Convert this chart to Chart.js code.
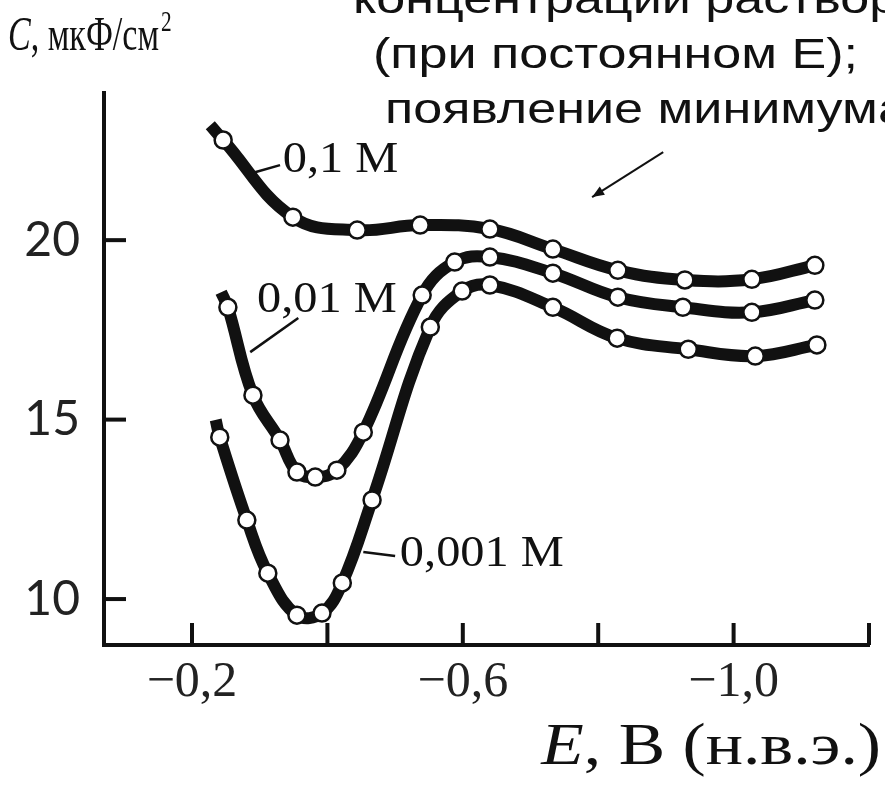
<!DOCTYPE html>
<html><head><meta charset="utf-8">
<script src="https://cdn.jsdelivr.net/npm/chart.js@4.4.1/dist/chart.umd.min.js"></script>
<style>html,body{margin:0;padding:0;background:#fff;overflow:hidden}#wrap{position:relative;width:885px;height:793px}</style>
</head><body><div id="wrap"><canvas id="c"></canvas></div>
<script>
// ---- data (E in V vs NHE, C in µF/cm²); first point of each series = line end without marker
const seriesNames = ['0,1 М', '0,01 М', '0,001 М'];
const E_01  = [-0.227, -0.246, -0.349, -0.444, -0.537, -0.640, -0.733, -0.829, -0.928, -1.027, -1.120];
const C_01  = [23.20, 22.79, 20.64, 20.28, 20.42, 20.31, 19.75, 19.16, 18.89, 18.91, 19.30];
const E_001 = [-0.243, -0.253, -0.290, -0.330, -0.355, -0.382, -0.414, -0.453, -0.540, -0.588, -0.640, -0.733, -0.829, -0.925, -1.027, -1.120];
const C_001 = [18.55, 18.13, 15.68, 14.43, 13.54, 13.40, 13.59, 14.65, 18.47, 19.39, 19.53, 19.08, 18.41, 18.13, 17.99, 18.33];
const E_0001 = [-0.235, -0.241, -0.281, -0.312, -0.355, -0.392, -0.422, -0.466, -0.552, -0.599, -0.640, -0.733, -0.828, -0.933, -1.032, -1.123];
const C_0001 = [14.99, 14.51, 12.20, 10.72, 9.55, 9.61, 10.45, 12.76, 17.58, 18.58, 18.75, 18.13, 17.27, 16.96, 16.77, 17.08];

const xTickValues = [-0.2, -0.4, -0.6, -0.8, -1.0, -1.2];
const xTickLabels = ['\u22120,2', '', '\u22120,6', '', '\u22121,0', ''];
const yTickValues = [10, 15, 20];
const yTickLabels = ['10', '15', '20'];
const xRange = [-1.2, -0.07];
const yRange = [8.72, 24.1];

const yTitleItalic = 'C';
const yTitleRest = ', мкФ/см';
const yTitleSup = '2';
const xTitleItalic = 'E';
const xTitleRest = ', В (н.в.э.)';
const noteLines = ['концентрации раствора', '(при постоянном Е);', 'появление минимума'];

// label anchors in data coordinates: [textE, textC, leaderFromE, leaderFromC, leaderToE, leaderToC]
const labelAnchors = [
  [-0.334, 22.23, -0.293, 21.89, -0.330, 22.09],
  [-0.296, 18.33, -0.286, 16.88, -0.357, 17.83],
  [-0.507, 11.25, -0.453, 11.31, -0.500, 11.20]
];
const arrowFromTo = [-0.896, 22.45, -0.791, 21.20];

const toPts = (E, C) => E.map((e, i) => ({x: e, y: C[i]}));
const ink = '#111';

const dsStyle = {
  borderColor: ink, borderWidth: 12, tension: 0.4,
  pointRadius: c => c.dataIndex === 0 ? 0 : 8.5,
  pointBackgroundColor: '#fff', pointBorderColor: ink, pointBorderWidth: 2.5,
  pointHoverRadius: 8.5, fill: false
};

function scaledText(ctx, text, x, y, sx) {
  ctx.save(); ctx.translate(x, y); ctx.scale(sx, 1); ctx.fillText(text, 0, 0); ctx.restore();
}

const decor = {
  id: 'decor',
  beforeDatasetsDraw(chart) {
    const {ctx, chartArea: a, scales: {x, y}} = chart;
    ctx.save();
    ctx.strokeStyle = ink; ctx.lineWidth = 4;
    xTickValues.forEach(v => { const p = x.getPixelForValue(v); ctx.beginPath(); ctx.moveTo(p, a.bottom); ctx.lineTo(p, a.bottom - 22); ctx.stroke(); });
    yTickValues.forEach(v => { const p = y.getPixelForValue(v); ctx.beginPath(); ctx.moveTo(a.left, p); ctx.lineTo(a.left + 22, p); ctx.stroke(); });
    ctx.restore();
  },
  afterDraw(chart) {
    const {ctx, scales: {x, y}} = chart;
    ctx.save();
    ctx.fillStyle = ink; ctx.strokeStyle = ink;
    // series labels with leader lines
    ctx.font = '44px "Liberation Serif", serif';
    ctx.textBaseline = 'middle'; ctx.textAlign = 'left';
    ctx.lineWidth = 2.5;
    labelAnchors.forEach((a, i) => {
      ctx.beginPath();
      ctx.moveTo(x.getPixelForValue(a[2]), y.getPixelForValue(a[3]));
      ctx.lineTo(x.getPixelForValue(a[4]), y.getPixelForValue(a[5]));
      ctx.stroke();
      scaledText(ctx, seriesNames[i], x.getPixelForValue(a[0]), y.getPixelForValue(a[1]), 1.1);
    });
    // y title (condensed serif)
    ctx.textBaseline = 'alphabetic';
    const ysx = 0.71;
    let px = 8;
    ctx.font = 'italic 48px "Liberation Serif", serif';
    scaledText(ctx, yTitleItalic, px, 50, ysx); px += ctx.measureText(yTitleItalic).width * ysx;
    ctx.font = '48px "Liberation Serif", serif';
    scaledText(ctx, yTitleRest, px, 50, ysx); px += ctx.measureText(yTitleRest).width * ysx + 2;
    ctx.font = '30px "Liberation Serif", serif';
    scaledText(ctx, yTitleSup, px, 31, ysx);
    // x title (right aligned)
    const xfs = 60, xsx = 1.16;
    ctx.font = 'italic ' + xfs + 'px "Liberation Serif", serif';
    const w1 = ctx.measureText(xTitleItalic).width;
    ctx.font = xfs + 'px "Liberation Serif", serif';
    const w2 = ctx.measureText(xTitleRest).width;
    ctx.save();
    ctx.translate(881 - (w1 + w2) * xsx, 764);
    ctx.scale(xsx, 1);
    ctx.font = 'italic ' + xfs + 'px "Liberation Serif", serif';
    ctx.fillText(xTitleItalic, 0, 0);
    ctx.font = xfs + 'px "Liberation Serif", serif';
    ctx.fillText(xTitleRest, w1, 0);
    ctx.restore();
    // annotation
    const lx = [353, 373, 385], ly = [13, 68, 123];
    ctx.font = '42px "Liberation Sans", Arial, sans-serif';
    noteLines.forEach((t, i) => scaledText(ctx, t, lx[i], ly[i], 1.24));
    // arrow
    const x1 = x.getPixelForValue(arrowFromTo[0]), y1 = y.getPixelForValue(arrowFromTo[1]);
    const x2 = x.getPixelForValue(arrowFromTo[2]), y2 = y.getPixelForValue(arrowFromTo[3]);
    ctx.lineWidth = 2;
    ctx.beginPath(); ctx.moveTo(x1, y1); ctx.lineTo(x2, y2); ctx.stroke();
    const ang = Math.atan2(y2 - y1, x2 - x1), hl = 13;
    ctx.beginPath(); ctx.moveTo(x2, y2);
    ctx.lineTo(x2 - hl * Math.cos(ang - 0.38), y2 - hl * Math.sin(ang - 0.38));
    ctx.lineTo(x2 - hl * Math.cos(ang + 0.38), y2 - hl * Math.sin(ang + 0.38));
    ctx.closePath(); ctx.fill();
    ctx.restore();
  }
};

new Chart(document.getElementById('c'), {
  type: 'line',
  data: {
    datasets: [
      {label: seriesNames[0], data: toPts(E_01, C_01), ...dsStyle},
      {label: seriesNames[1], data: toPts(E_001, C_001), ...dsStyle},
      {label: seriesNames[2], data: toPts(E_0001, C_0001), ...dsStyle}
    ]
  },
  options: {
    responsive: true, maintainAspectRatio: false, animation: false,
    layout: {padding: {top: 93, right: 16, left: 0, bottom: 0}},
    plugins: {legend: {display: false}, tooltip: {enabled: false}, title: {display: false}},
    scales: {
      x: {
        type: 'linear', reverse: true, min: xRange[0], max: xRange[1],
        afterBuildTicks: s => { s.ticks = xTickValues.map(v => ({value: v})); },
        afterFit: s => { s.height = 148; },
        grid: {display: true, drawOnChartArea: false, drawTicks: false},
        border: {display: true, color: ink, width: 4},
        ticks: {autoSkip: false, maxRotation: 0, padding: 8, color: '#222',
          font: {family: '"Liberation Serif", serif', size: 50},
          callback: (v, i) => xTickLabels[i]}
      },
      y: {
        type: 'linear', min: yRange[0], max: yRange[1],
        afterBuildTicks: s => { s.ticks = yTickValues.map(v => ({value: v})); },
        afterFit: s => { s.width = 104; },
        grid: {display: true, drawOnChartArea: false, drawTicks: false},
        border: {display: true, color: ink, width: 4},
        ticks: {autoSkip: false, padding: 24, color: '#222',
          font: {family: 'Lato, sans-serif', size: 48},
          callback: (v, i) => yTickLabels[i]}
      }
    }
  },
  plugins: [decor]
});
</script></body></html>
